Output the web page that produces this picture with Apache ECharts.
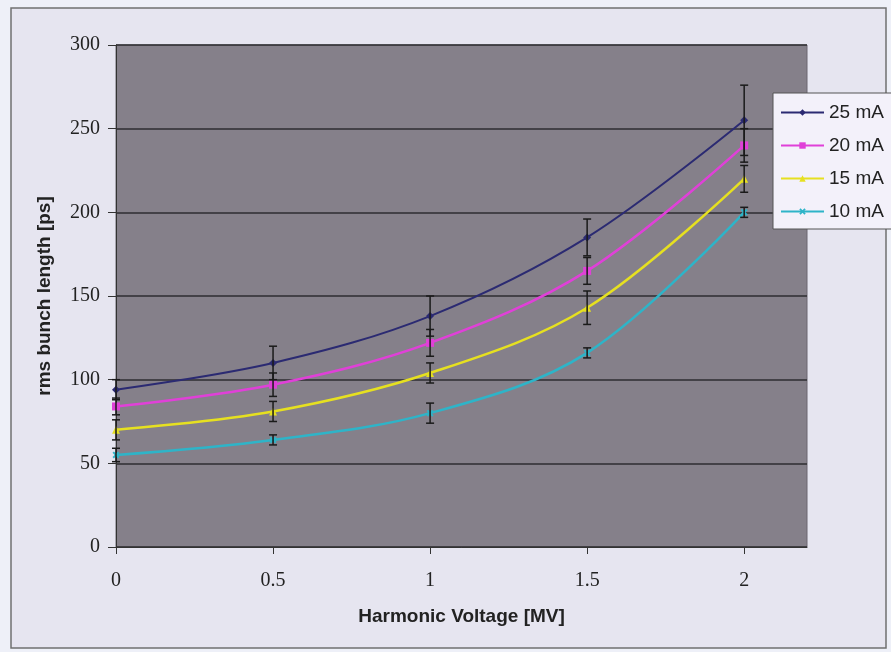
<!DOCTYPE html>
<html>
<head>
<meta charset="utf-8">
<script src="https://cdn.jsdelivr.net/npm/echarts@6/dist/echarts.min.js"></script>
<style>
  html, body { margin: 0; padding: 0; background: #eceaf4; }
  #chart { width: 891px; height: 652px; }
</style>
</head>
<body>
<div id="chart"></div>
<script>
// harmonic voltage [MV]
const voltages = [0, 0.5, 1, 1.5, 2];
const xTicks = [0, 0.5, 1, 1.5, 2];

// rms bunch length [ps] and error (+/-)
const len25 = [94, 110, 138, 185, 255];
const err25 = [6, 10, 12, 11, 21];
const len20 = [84, 97, 122, 165, 240];
const err20 = [5, 7, 8, 8, 10];
const len15 = [70, 81, 104, 143, 220];
const err15 = [6, 6, 6, 10, 8];
const len10 = [55, 64, 80, 116, 200];
const err10 = [4, 3, 6, 3, 3];

const names = ["25 mA", "20 mA", "15 mA", "10 mA"];
const colors = ["#2b2a72", "#e040d8", "#e6e020", "#2eb4c8"];
const symbols = [
  "diamond",
  "rect",
  "triangle",
  "path://M0,2 L2,0 L5,3 L8,0 L10,2 L7,5 L10,8 L8,10 L5,7 L2,10 L0,8 L3,5 Z",
];

var chart = echarts.init(document.getElementById("chart"));

function pairs(vals) {
  return voltages.map((v, i) => [v, vals[i]]);
}
function errData(vals, errs) {
  return voltages.map((v, i) => [v, vals[i] - errs[i], vals[i] + errs[i]]);
}

// vertical error bars with caps
function renderErr(params, api) {
  let top = api.coord([api.value(0), api.value(2)]);
  let bot = api.coord([api.value(0), api.value(1)]);
  let cap = 4;
  let style = { stroke: "#1a1a1a", lineWidth: 1.5 };
  return {
    type: "group",
    children: [
      { type: "line", shape: { x1: top[0], y1: top[1], x2: bot[0], y2: bot[1] }, style: style },
      { type: "line", shape: { x1: top[0] - cap, y1: top[1], x2: top[0] + cap, y2: top[1] }, style: style },
      { type: "line", shape: { x1: bot[0] - cap, y1: bot[1], x2: bot[0] + cap, y2: bot[1] }, style: style },
    ],
  };
}

const allLens = [len25, len20, len15, len10];
const allErrs = [err25, err20, err15, err10];

let series = [];
allLens.forEach((vals, k) => {
  series.push({
    name: names[k],
    type: "line",
    data: pairs(vals),
    smooth: 0.35,
    symbol: symbols[k],
    symbolSize: k === 3 ? 7 : 8,
    z: 3,
    lineStyle: { color: colors[k], width: k === 0 ? 2 : 2.5 },
    itemStyle: { color: colors[k] },
  });
});
allLens.forEach((vals, k) => {
  series.push({
    name: "err " + names[k],
    type: "custom",
    renderItem: renderErr,
    data: errData(vals, allErrs[k]),
    encode: { x: 0, y: [1, 2] },
    z: 4,
    silent: true,
  });
});

var option = {
  backgroundColor: "#eef0f8",
  animation: false,
  graphic: [
    {
      type: "rect",
      shape: { x: 11, y: 8, width: 875, height: 640 },
      style: { fill: "#e6e5f0", stroke: "#707070", lineWidth: 1.5 },
      z: -10,
    },
  ],
  grid: {
    left: 116,
    right: 84,
    top: 45,
    bottom: 105,
    show: true,
    backgroundColor: "#85808a",
    borderColor: "#6a6670",
    borderWidth: 1,
  },
  legend: {
    data: names,
    orient: "vertical",
    left: 773,
    top: 93,
    itemWidth: 43,
    itemHeight: 8,
    itemGap: 14,
    padding: [10, 40, 8, 7],
    backgroundColor: "#f3f1fa",
    borderColor: "#555",
    borderWidth: 1,
    textStyle: { fontFamily: "Liberation Sans", fontSize: 19, color: "#222", padding: [0, 0, 0, 0] },
  },
  xAxis: {
    type: "value",
    min: 0,
    max: 2.2,
    interval: 0.5,
    name: "Harmonic Voltage [MV]",
    nameLocation: "middle",
    nameGap: 60,
    nameTextStyle: { fontFamily: "Liberation Sans", fontWeight: "bold", fontSize: 19, color: "#222" },
    axisLine: { lineStyle: { color: "#333", width: 1 } },
    axisTick: { show: true, length: 7, customValues: xTicks, lineStyle: { color: "#333" } },
    axisLabel: {
      customValues: xTicks,
      fontFamily: "Liberation Serif",
      fontSize: 20,
      color: "#222",
      margin: 24,
    },
    splitLine: { show: false },
  },
  yAxis: {
    type: "value",
    min: 0,
    max: 300,
    interval: 50,
    name: "rms bunch length [ps]",
    nameLocation: "middle",
    nameGap: 62,
    nameTextStyle: { fontFamily: "Liberation Sans", fontWeight: "bold", fontSize: 19, color: "#222" },
    axisLine: { show: true, lineStyle: { color: "#333", width: 1 } },
    axisTick: { show: true, length: 8, lineStyle: { color: "#333" } },
    axisLabel: { fontFamily: "Liberation Serif", fontSize: 20, color: "#222", margin: 16 },
    splitLine: { show: true, lineStyle: { color: "#2e2c30", width: 1.5 } },
  },
  series: series,
};

chart.setOption(option);
</script>
</body>
</html>
